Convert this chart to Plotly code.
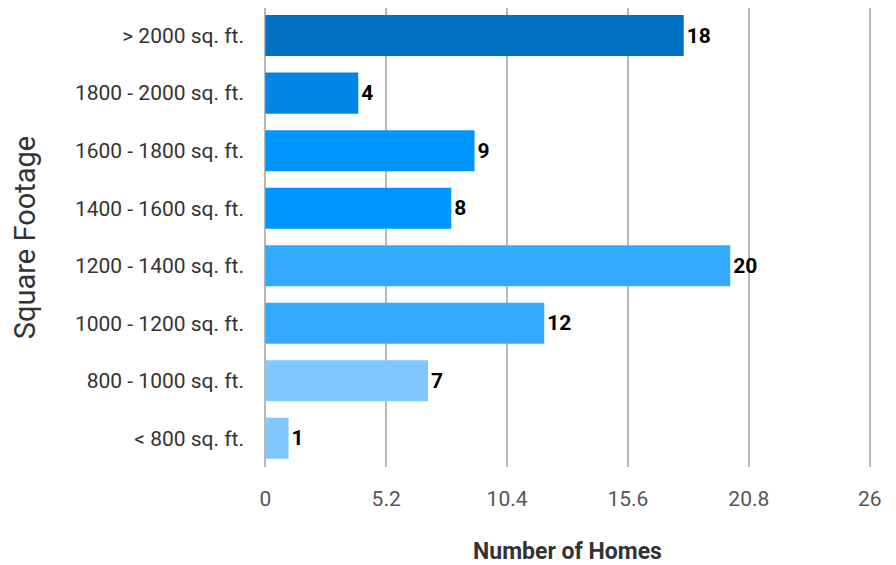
import plotly.graph_objects as go

categories = ["> 2000 sq. ft.", "1800 - 2000 sq. ft.", "1600 - 1800 sq. ft.",
              "1400 - 1600 sq. ft.", "1200 - 1400 sq. ft.", "1000 - 1200 sq. ft.",
              "800 - 1000 sq. ft.", "< 800 sq. ft."]
homes = [18, 4, 9, 8, 20, 12, 7, 1]
colors = ["#0070C0", "#0086E6", "#0096FF", "#0096FF", "#33AAFF", "#33AAFF", "#80C8FF", "#80C8FF"]
tick_vals = [0, 5.2, 10.4, 15.6, 20.8, 26]
tick_text = ["0", "5.2", "10.4", "15.6", "20.8", "26"]

fig = go.Figure(go.Bar(
    x=homes, y=categories, orientation="h",
    marker=dict(color=colors, line=dict(width=0)),
    width=0.713,
    text=[str(v) for v in homes], textposition="outside",
    textfont=dict(family="Roboto", size=21, color="#000000", weight="bold"),
    cliponaxis=False,
))

# page body has an 8px default margin, so the figure is sized to fit inside the window
fig.update_layout(
    width=888, height=557,
    margin=dict(l=255, r=24, t=0, b=98),
    paper_bgcolor="white", plot_bgcolor="white",
    font=dict(family="Roboto", color="#333333"),
    showlegend=False,
)
fig.update_xaxes(
    range=[-0.1, 26.1], tickvals=tick_vals, ticktext=tick_text,
    showgrid=True, gridcolor="#b7b7b7", gridwidth=1.5,
    zeroline=False, showline=False, ticks="",
    ticklabelstandoff=17, automargin=False,
    tickfont=dict(family="Roboto", size=21, color="#555555"),
    title=dict(text="Number of Homes", standoff=35,
               font=dict(family="Roboto", size=23, color="#333333", weight="bold")),
)
fig.update_yaxes(
    categoryorder="array", categoryarray=categories[::-1],
    range=[-0.5, 7.48],
    showgrid=False, zeroline=False, showline=False, ticks="",
    ticklabelstandoff=18, automargin=False,
    tickfont=dict(family="Roboto", size=21, color="#333333"),
    title=dict(text="Square Footage", standoff=30,
               font=dict(family="Roboto", size=29, color="#333333")),
)

fig.write_html("out.html")
